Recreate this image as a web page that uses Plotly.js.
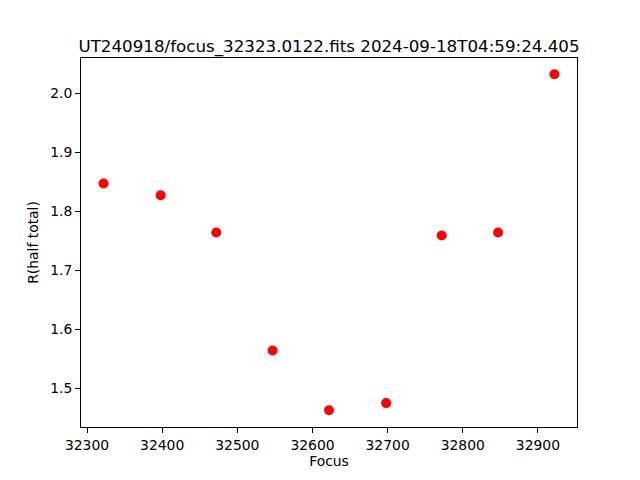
<!DOCTYPE html>
<html><head><meta charset="utf-8">
<script src="https://cdn.plot.ly/plotly-3.0.1.min.js"></script>
<style>html,body{margin:0;padding:0;background:#fff}</style>
</head><body><div id="plot" style="width:640px;height:480px"></div>
<script>
const focus = [32322, 32398, 32472, 32547, 32622, 32698, 32772, 32847, 32922];
const rHalf = [1.847, 1.827, 1.764, 1.564, 1.463, 1.475, 1.759, 1.764, 2.032];
const titleText = 'UT240918/focus_32323.0122.fits 2024-09-18T04:59:24.405';
const xTicks = [32300, 32400, 32500, 32600, 32700, 32800, 32900];
const yTicks = [1.5, 1.6, 1.7, 1.8, 1.9, 2.0];

const axisCommon = {
  showline: true, mirror: true, linecolor: '#000', linewidth: 1,
  ticks: 'outside', ticklen: 5, tickwidth: 1, tickcolor: '#000',
  showgrid: false, zeroline: false,
  tickfont: {family: 'DejaVu Sans', size: 13.9, color: '#000'}
};
Plotly.newPlot('plot', [{
  x: focus, y: rHalf, type: 'scatter', mode: 'markers',
  marker: {color: 'red', size: 10}
}], {
  width: 640, height: 480,
  paper_bgcolor: '#fff', plot_bgcolor: '#fff',
  margin: {l: 81, r: 63, t: 58, b: 53},
  showlegend: false,
  title: {text: titleText, font: {family: 'DejaVu Sans', size: 16.7, color: '#000'},
          x: 0.5, xanchor: 'center', xref: 'paper', y: 1, yref: 'paper', yanchor: 'bottom', pad: {b: 6}},
  xaxis: Object.assign({}, axisCommon, {
    range: [32292, 32952], tickvals: xTicks, ticktext: xTicks.map(String),
    title: {text: 'Focus', font: {family: 'DejaVu Sans', size: 13.9, color: '#000'}, standoff: 4}
  }),
  yaxis: Object.assign({}, axisCommon, {
    range: [1.4345, 2.0595], tickvals: yTicks, ticktext: yTicks.map(v => v.toFixed(1)),
    title: {text: 'R(half total)', font: {family: 'DejaVu Sans', size: 13.9, color: '#000'}, standoff: 8}
  })
}, {displayModeBar: false});
</script></body></html>
